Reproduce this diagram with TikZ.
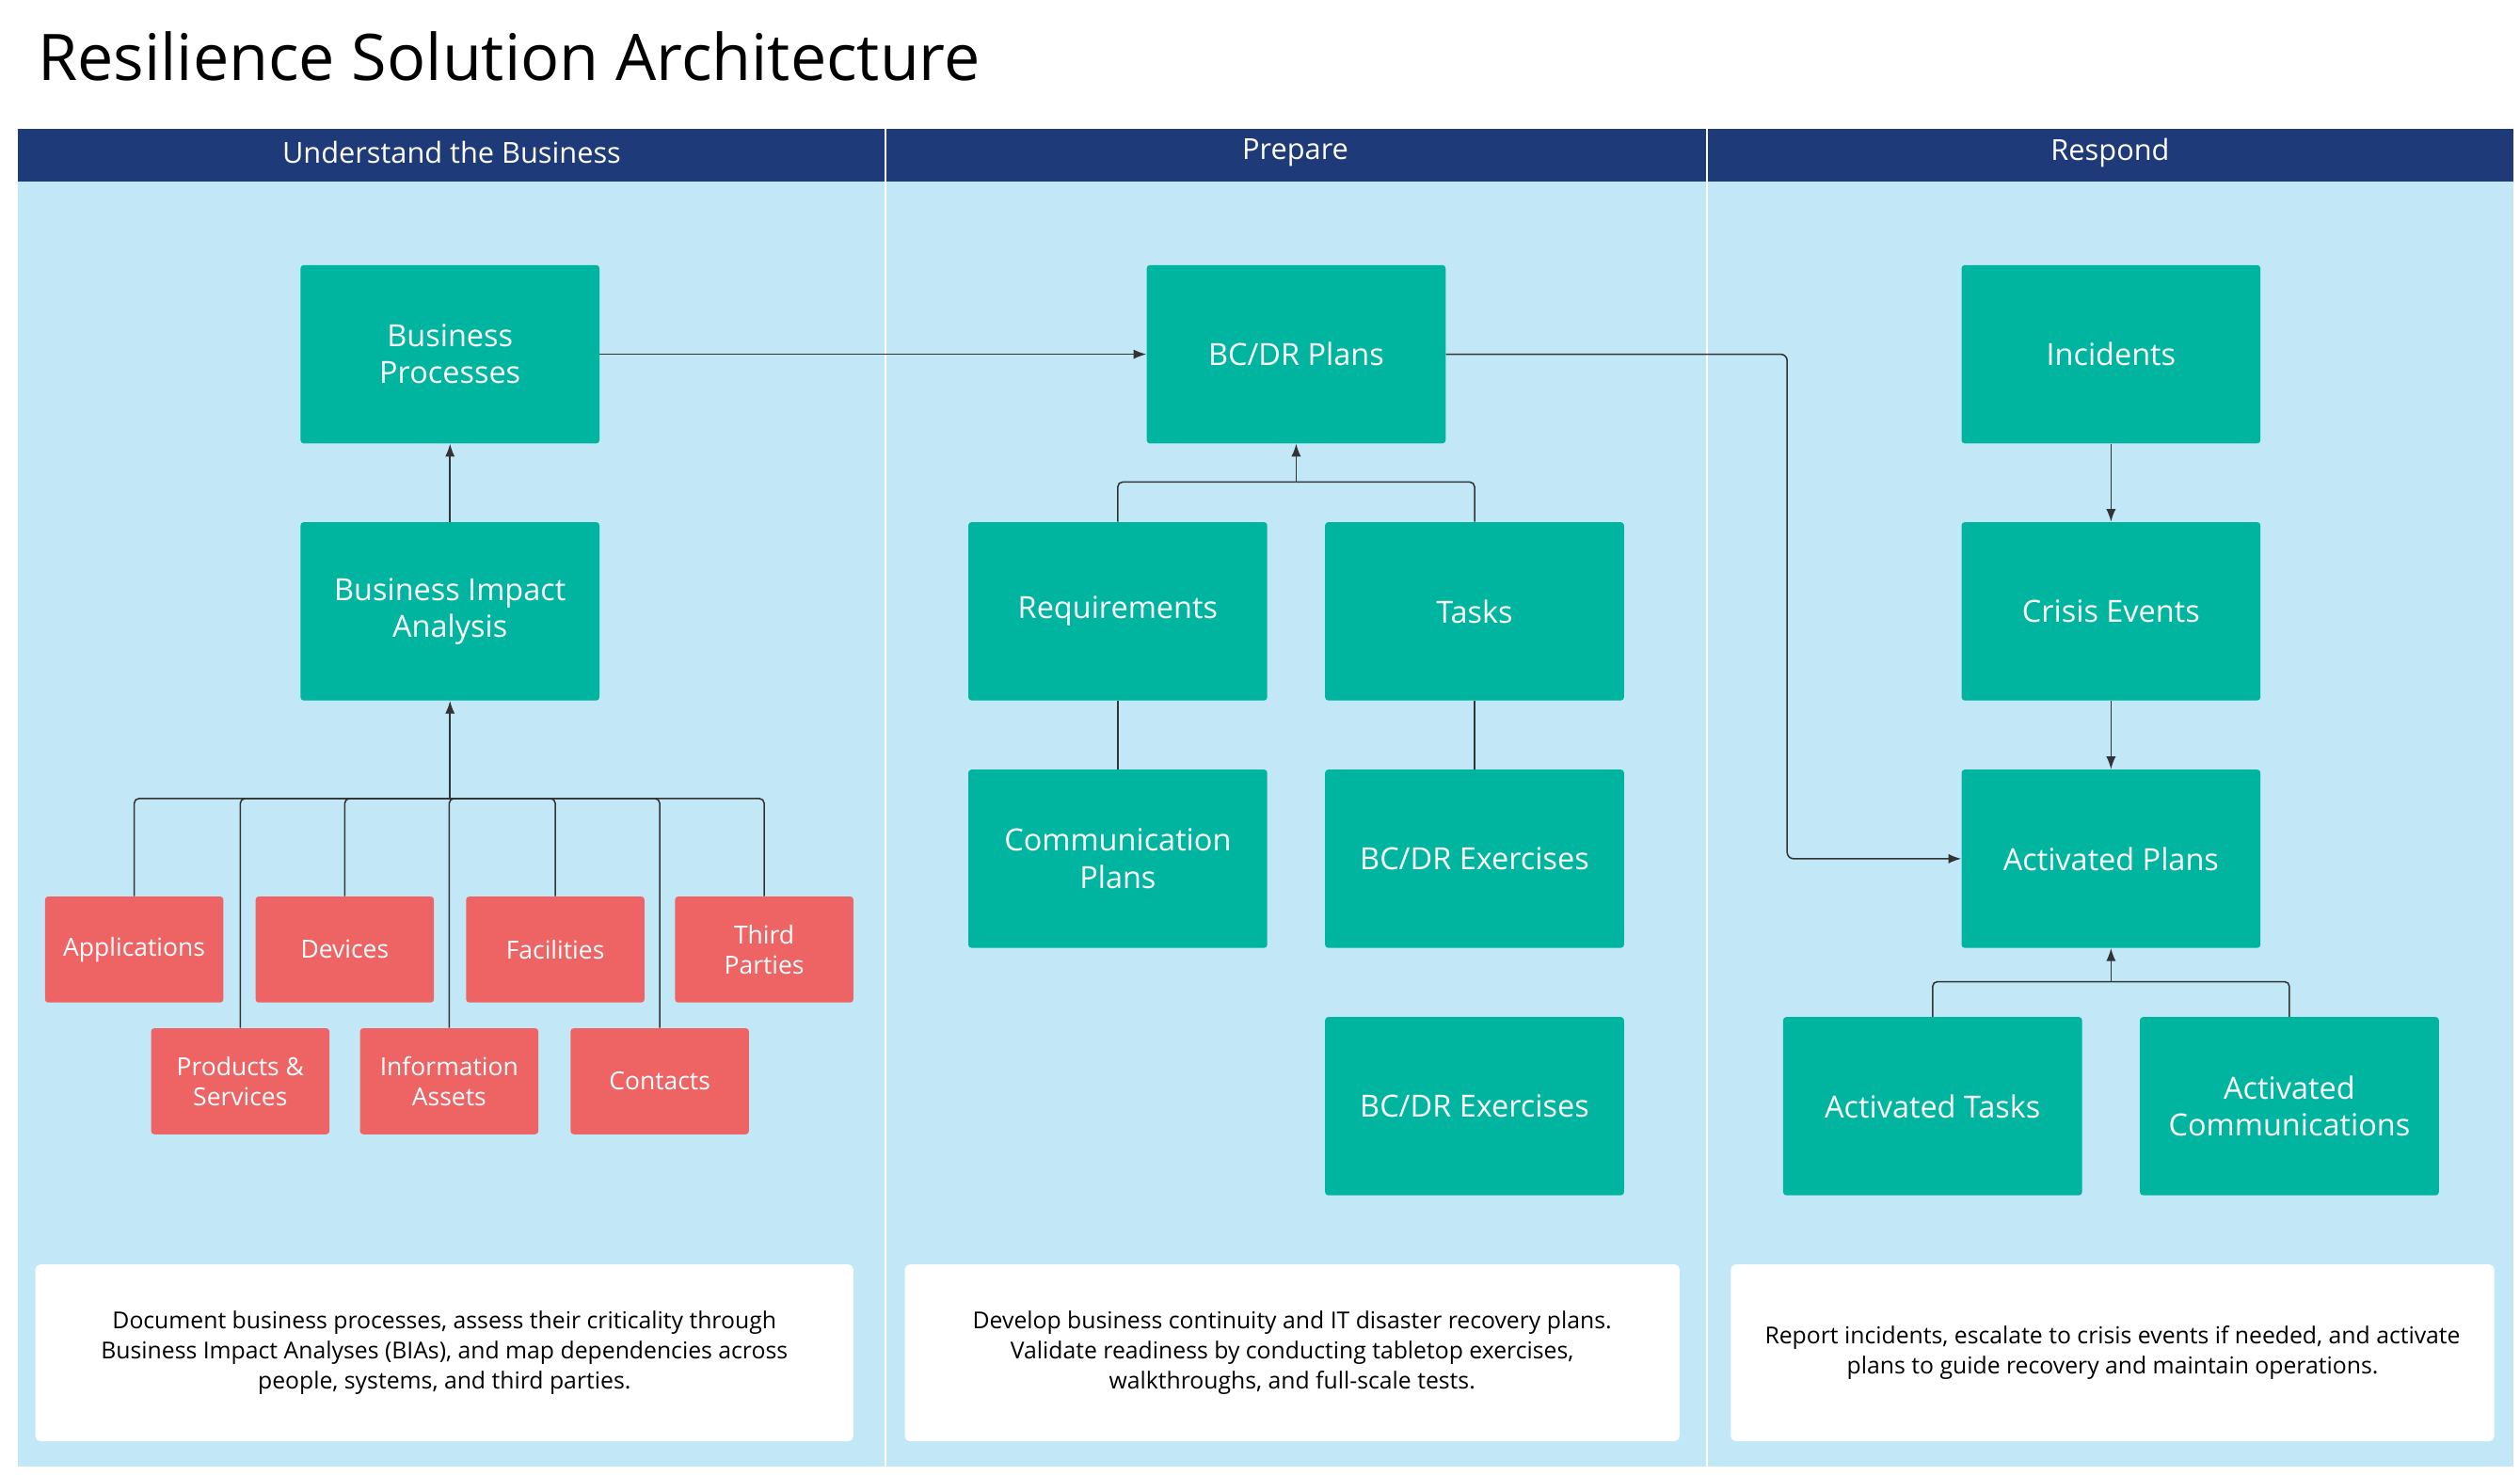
\documentclass[tikz,border=0pt]{standalone}
\usepackage{fontspec}
\setmainfont{Open Sans}
\usetikzlibrary{arrows.meta}
\definecolor{navy}{HTML}{1F3A78}
\definecolor{lblue}{HTML}{C2E8F8}
\definecolor{teal2}{HTML}{00B5A0}
\definecolor{red2}{HTML}{EE6464}
\definecolor{ln}{HTML}{333333}
\begin{document}
\begin{tikzpicture}[x=1pt,y=-1pt,
 tbox/.style={fill=teal2,rounded corners=2pt,minimum width=186pt,minimum height=111pt,text=white,font=\fontsize{19}{23}\selectfont,align=center,inner sep=0pt},
 rbox/.style={fill=red2,rounded corners=2pt,minimum width=111pt,minimum height=66pt,text=white,font=\fontsize{15.5}{19}\selectfont,align=center,inner sep=0pt},
 hdr/.style={text=white,font=\fontsize{18}{22}\selectfont},
 desc/.style={fill=white,rounded corners=3pt,minimum height=110pt,align=center,font=\fontsize{14.5}{19}\selectfont,inner sep=0pt},
 con/.style={draw=ln,line width=0.9pt},
 arr/.style={con,-{Latex[length=8pt,width=6pt]}}]
\useasboundingbox (0,0) rectangle (1568,918);
\fill[white] (0,0) rectangle (1568,918);
\node[anchor=west,font=\fontsize{40}{46}\selectfont] (title) at (20,35) {Resilience Solution Architecture};
\fill[lblue] (11,113) rectangle (1564,913);
\fill[navy] (11,80) rectangle (1564,113);
\draw[white,line width=1.5pt] (551,80)--(551,913) (1062,80)--(1062,913);
\node[hdr] (h1) at (281,95) {Understand the Business};
\node[hdr] (h2) at (806,95) {Prepare};
\node[hdr] (h3) at (1313,95) {Respond};
% teal boxes
\node[tbox] (bp) at (280,220.5) {Business\\Processes};
\node[tbox] (bia) at (280,380.5) {Business Impact\\Analysis};
\node[tbox] (plans) at (806.5,220.5) {BC/DR Plans};
\node[tbox] (req) at (695.5,380.5) {Requirements};
\node[tbox] (tasks) at (917.5,380.5) {Tasks};
\node[tbox] (comm) at (695.5,534.5) {Communication\\Plans};
\node[tbox] (ex1) at (917.5,534.5) {BC/DR Exercises};
\node[tbox] (ex2) at (917.5,688.5) {BC/DR Exercises};
\node[tbox] (inc) at (1313.5,220.5) {Incidents};
\node[tbox] (cri) at (1313.5,380.5) {Crisis Events};
\node[tbox] (act) at (1313.5,534.5) {Activated Plans};
\node[tbox] (at) at (1202.5,688.5) {Activated Tasks};
\node[tbox] (ac) at (1424.5,688.5) {Activated\\Communications};
% red boxes
\node[rbox] (app) at (83.5,591) {Applications};
\node[rbox] (dev) at (214.5,591) {Devices};
\node[rbox] (fac) at (345.5,591) {Facilities};
\node[rbox] (tp) at (475.5,591) {Third\\Parties};
\node[rbox] (ps) at (149.5,673) {Products \&\\Services};
\node[rbox] (ia) at (279.5,673) {Information\\Assets};
\node[rbox] (cont) at (410.5,673) {Contacts};
% descriptions
\node[desc,minimum width=509pt] (d1) at (276.5,842) {Document business processes, assess their criticality through\\Business Impact Analyses (BIAs), and map dependencies across\\people, systems, and third parties.};
\node[desc,minimum width=482pt] (d2) at (804,842) {Develop business continuity and IT disaster recovery plans.\\Validate readiness by conducting tabletop exercises,\\walkthroughs, and full-scale tests.};
\node[desc,minimum width=475pt] (d3) at (1314.5,842) {Report incidents, escalate to crisis events if needed, and activate\\plans to guide recovery and maintain operations.};
% connectors
\coordinate (bus) at (280,497);
\foreach \n in {app,dev,fac,tp,ps,ia,cont}{\draw[con,rounded corners=3pt] (\n.north) |- (bus);}
\draw[arr] (bus) -- (bia.south);
\draw[arr] (bia) -- (bp);
\draw[arr] (bp) -- (plans);
\draw[arr,rounded corners=4pt] (plans.east) -- (1112,220.5) |- (act.west);
\coordinate (pj) at (806.5,300);
\draw[con,rounded corners=3pt] (req.north) |- (pj);
\draw[con,rounded corners=3pt] (tasks.north) |- (pj);
\draw[arr] (pj) -- (plans.south);
\draw[con] (req) -- (comm);
\draw[con] (tasks) -- (ex1);
\draw[arr] (inc) -- (cri);
\draw[arr] (cri) -- (act);
\coordinate (aj) at (1313.5,611);
\draw[con,rounded corners=3pt] (at.north) |- (aj);
\draw[con,rounded corners=3pt] (ac.north) |- (aj);
\draw[arr] (aj) -- (act.south);
\end{tikzpicture}
\end{document}
